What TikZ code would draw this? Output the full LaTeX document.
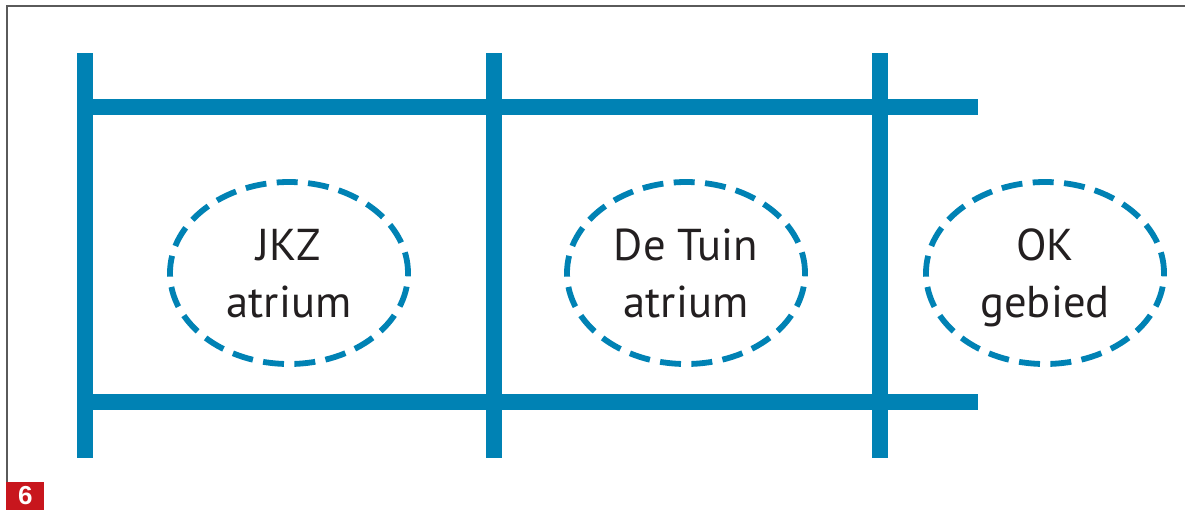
\documentclass[tikz,border=0pt]{standalone}
\usepackage{fontspec}
\setmainfont{PT Sans}
\newfontfamily\tagfont{Liberation Sans}
\usetikzlibrary{shapes.geometric}

\definecolor{wall}{RGB}{0,130,180}
\definecolor{frame}{RGB}{90,90,90}
\definecolor{tagred}{RGB}{200,22,29}
\definecolor{ink}{RGB}{35,31,32}

\tikzset{
	bar/.style = {line width = 8pt, wall},
	zone/.style = {ellipse, draw = wall, line width = 2.9pt, dash pattern = on 10.5pt off 5.2pt,
		minimum width = 119pt, minimum height = 91pt, inner sep = 0pt, align = center,
		text = ink, text depth = 0pt, font = \fontsize{22.3}{28.5}\selectfont},
	tagbox/.style = {fill = tagred, minimum width = 19pt, minimum height = 14pt, inner sep = 0pt,
		text = white, font = \tagfont\bfseries\fontsize{13}{13}\selectfont},
}

\begin{document}
\begin{tikzpicture}[x = 0.5pt, y = -0.5pt]
	\useasboundingbox (0,0) rectangle (1185,510);
	% frame
	\draw[frame, line width = 1pt] (6.5,482) -- (6.5,6) -- (1185,6);
	\node[tagbox, anchor = south west](TAG) at (6,510){6};
	% walls
	\foreach \x in {85,494,880}
		\draw[bar] (\x,53) -- (\x,458);
	\draw[bar]
	(77,106.5) -- (978,106.5)
	(77,402) -- (978,402)
	;
	% zones
	\node[zone](JKZ) at (289,273){JKZ\\atrium};
	\node[zone](TUIN) at (686,273){De Tuin\\atrium};
	\node[zone](OK) at (1045,273){OK\\gebied};
\end{tikzpicture}
\end{document}
